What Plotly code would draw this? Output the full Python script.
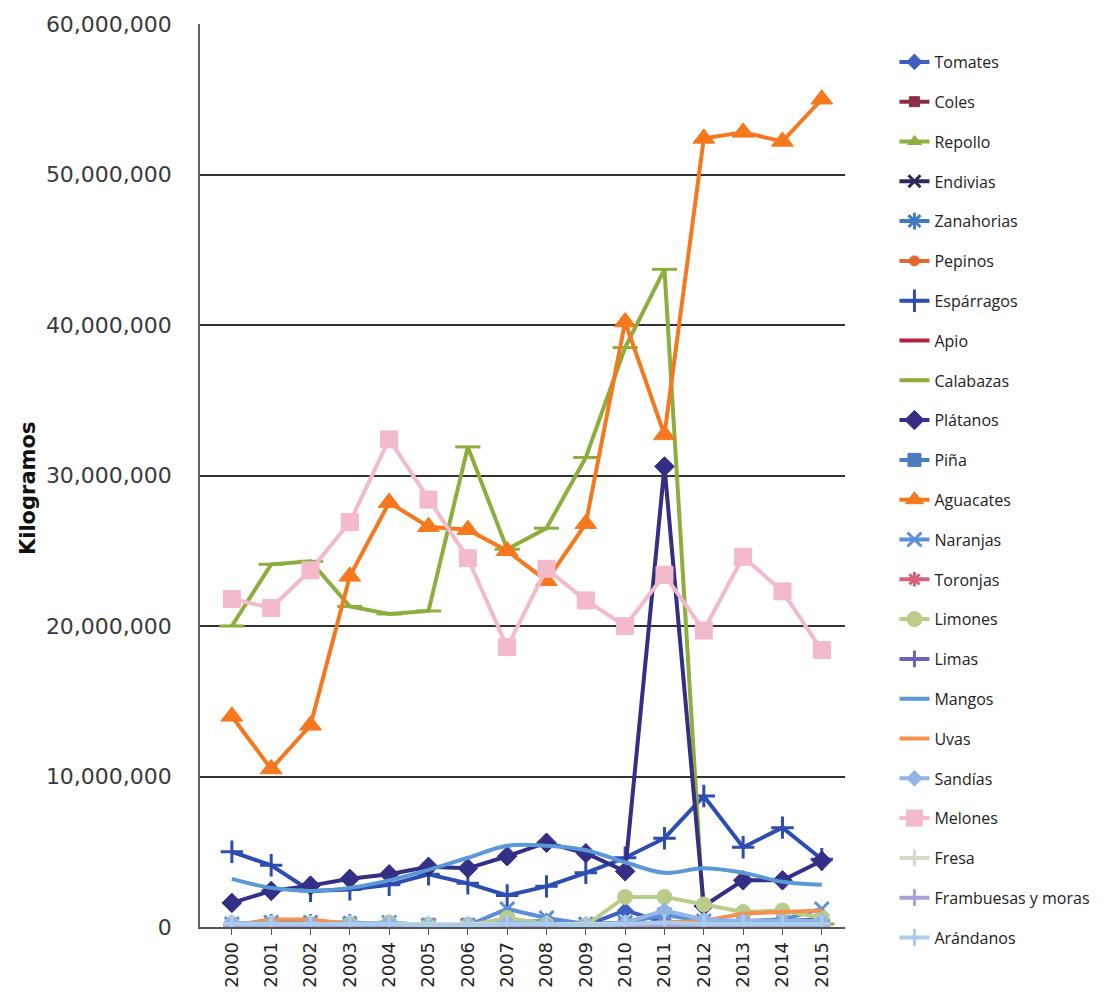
import plotly.graph_objects as go

years = list(range(2000, 2016))

# values in millions of kilograms
tomates     = [0.2, 0.25, 0.2, 0.15, 0.2, 0.1, 0.1, 0.3, 0.4, 0.1, 1.1, 0.3, 0.2, 0.3, 0.4, 0.5]
coles       = [0.05] * 16
repollo     = [0.1, 0.1, 0.1, 0.1, 0.1, 0.1, 0.1, 0.1, 0.1, 0.1, 0.1, 0.1, 0.1, 0.1, 0.1, 0.1]
endivias    = [0.05] * 16
zanahorias  = [0.2, 0.3, 0.3, 0.3, 0.2, 0.1, 0.1, 0.4, 0.3, 0.1, 0.2, 0.3, 0.3, 0.3, 0.3, 0.4]
pepinos     = [0.1] * 16
esparragos  = [5.0, 4.1, 2.4, 2.5, 2.8, 3.5, 2.9, 2.1, 2.7, 3.6, 4.6, 5.9, 8.7, 5.3, 6.6, 4.5]
apio        = [0.05] * 16
calabazas   = [20.0, 24.1, 24.3, 21.3, 20.8, 21.0, 31.9, 25.1, 26.5, 31.2, 38.5, 43.7, 0.4, 0.2, 0.2, 0.2]
platanos    = [1.6, 2.4, 2.75, 3.2, 3.5, 4.0, 3.9, 4.7, 5.6, 4.9, 3.7, 30.6, 1.4, 3.1, 3.1, 4.4]
pina        = [0.1, 0.1, 0.1, 0.1, 0.1, 0.15, 0.15, 0.1, 0.1, 0.1, 0.1, 0.1, 0.1, 0.1, 0.1, 0.1]
aguacates   = [14.0, 10.5, 13.4, 23.3, 28.2, 26.6, 26.4, 25.0, 23.0, 26.8, 40.2, 32.7, 52.4, 52.8, 52.2, 55.0]
naranjas    = [0.2, 0.3, 0.3, 0.2, 0.3, 0.1, 0.1, 1.2, 0.6, 0.2, 0.3, 0.8, 0.4, 0.4, 0.5, 1.2]
toronjas    = [0.1] * 16
limones     = [0.2, 0.2, 0.2, 0.2, 0.3, 0.1, 0.1, 0.6, 0.2, 0.1, 2.0, 2.0, 1.5, 1.0, 1.1, 0.6]
limas       = [0.1] * 16
mangos      = [3.2, 2.6, 2.4, 2.6, 3.1, 3.8, 4.6, 5.4, 5.4, 5.1, 4.3, 3.6, 3.9, 3.6, 3.0, 2.8]
uvas        = [0.1, 0.5, 0.5, 0.2, 0.2, 0.1, 0.1, 0.2, 0.1, 0.1, 0.2, 0.3, 0.4, 0.9, 1.0, 1.1]
sandias     = [0.3, 0.2, 0.2, 0.2, 0.3, 0.1, 0.1, 0.3, 0.2, 0.1, 0.3, 1.1, 0.5, 0.4, 0.4, 0.4]
melones     = [21.8, 21.2, 23.7, 26.9, 32.4, 28.4, 24.5, 18.6, 23.8, 21.7, 20.0, 23.4, 19.7, 24.6, 22.3, 18.4]
fresa       = [0.2] * 16
frambuesas  = [0.1] * 16
arandanos   = [0.2, 0.2, 0.2, 0.2, 0.2, 0.1, 0.1, 0.2, 0.2, 0.1, 0.2, 0.3, 0.2, 0.2, 0.2, 0.2]

y_ticks = [0, 10_000_000, 20_000_000, 30_000_000, 40_000_000, 50_000_000, 60_000_000]
y_tick_text = ["0", "10,000,000", "20,000,000", "30,000,000", "40,000,000", "50,000,000", "60,000,000"]

series = [
    ("Tomates", tomates, "#3E5FC0", "diamond", 12, "linear"),
    ("Coles", coles, "#8E2E43", "square", 10, "linear"),
    ("Repollo", repollo, "#8FAF3E", "triangle-up", 12, "linear"),
    ("Endivias", endivias, "#2B2958", "x-thin", 12, "linear"),
    ("Zanahorias", zanahorias, "#3F7CC4", "asterisk", 14, "linear"),
    ("Pepinos", pepinos, "#E5662A", "circle", 10, "linear"),
    ("Espárragos", esparragos, "#2D4DB0", "cross-thin", 16, "linear"),
    ("Apio", apio, "#B5203E", None, 0, "linear"),
    ("Calabazas", calabazas, "#8DAE3D", "line-ew", 18, "linear"),
    ("Plátanos", platanos, "#332E86", "diamond", 15, "linear"),
    ("Piña", pina, "#4C7CC0", "square", 13, "linear"),
    ("Aguacates", aguacates, "#F6781E", "triangle-up", 19, "linear"),
    ("Naranjas", naranjas, "#5C8FD8", "x-thin", 14, "linear"),
    ("Toronjas", toronjas, "#D7607B", "asterisk", 12, "linear"),
    ("Limones", limones, "#B9CD88", "circle", 15, "linear"),
    ("Limas", limas, "#6B64B6", "cross-thin", 12, "linear"),
    ("Mangos", mangos, "#5B98D8", None, 0, "spline"),
    ("Uvas", uvas, "#F4914F", None, 0, "linear"),
    ("Sandías", sandias, "#92B4E6", "diamond", 12, "linear"),
    ("Melones", melones, "#F2BACB", "square", 17, "linear"),
    ("Fresa", fresa, "#D5DBC9", "cross-thin", 12, "linear"),
    ("Frambuesas y moras", frambuesas, "#A8A2D8", "cross-thin", 12, "linear"),
    ("Arándanos", arandanos, "#AACCEE", "cross-thin", 12, "linear"),
]

line_markers = {"x-thin", "asterisk", "cross-thin", "line-ew"}

fig = go.Figure()
for i, (name, vals, color, sym, size, shape) in enumerate(series):
    y = [v * 1_000_000 for v in vals]
    if sym is None:
        mode = "lines"
        marker = dict()
    else:
        mode = "lines+markers"
        if sym in line_markers:
            marker = dict(symbol=sym, size=size, color=color, line=dict(color=color, width=3))
        else:
            marker = dict(symbol=sym, size=size, color=color, line=dict(color=color, width=1))
    fig.add_trace(go.Scatter(
        x=years, y=y, name=name, mode=mode, marker=marker,
        line=dict(color=color, width=4, shape=shape),
        legendgroup=f"g{i}",
    ))

fig.update_layout(
    width=1107, height=1000,
    margin=dict(l=200, r=262, t=20, b=68),
    paper_bgcolor="white", plot_bgcolor="white",
    font=dict(family="DejaVu Sans", color="#333333"),
    showlegend=True,
    legend=dict(
        xref="container", yref="container",
        x=0.808, y=0.955, xanchor="left", yanchor="top",
        font=dict(family="Open Sans", size=16, color="#222222"),
        tracegroupgap=16, bgcolor="rgba(0,0,0,0)",
        maxheight=0.99,
    ),
    annotations=[dict(
        text="<b>Kilogramos</b>", xref="paper", yref="paper",
        x=-172 / 645, y=0.485, xanchor="center", yanchor="middle",
        textangle=-90, showarrow=False,
        font=dict(size=21, family="DejaVu Sans", color="#111111"),
    )],
)

fig.update_xaxes(
    range=[1999.19, 2015.59],
    tickmode="array", tickvals=years, ticktext=[str(y) for y in years],
    tickangle=-90, tickfont=dict(size=18, family="DejaVu Sans", color="#222222"),
    showgrid=False, zeroline=False,
    showline=True, linecolor="#555555", linewidth=1.5,
    ticks="outside", ticklen=6, tickcolor="#555555",
)

fig.update_yaxes(
    range=[0, 60_000_000],
    tickmode="array", tickvals=y_ticks, ticktext=y_tick_text,
    tickfont=dict(size=22, family="DejaVu Sans", color="#3a3a3a"),
    showgrid=True, gridcolor="#333333", gridwidth=1.5,
    zeroline=False,
    showline=True, linecolor="#666666", linewidth=1.5,
    ticks="", ticklabelstandoff=22,
)

fig.write_html("out.html")
